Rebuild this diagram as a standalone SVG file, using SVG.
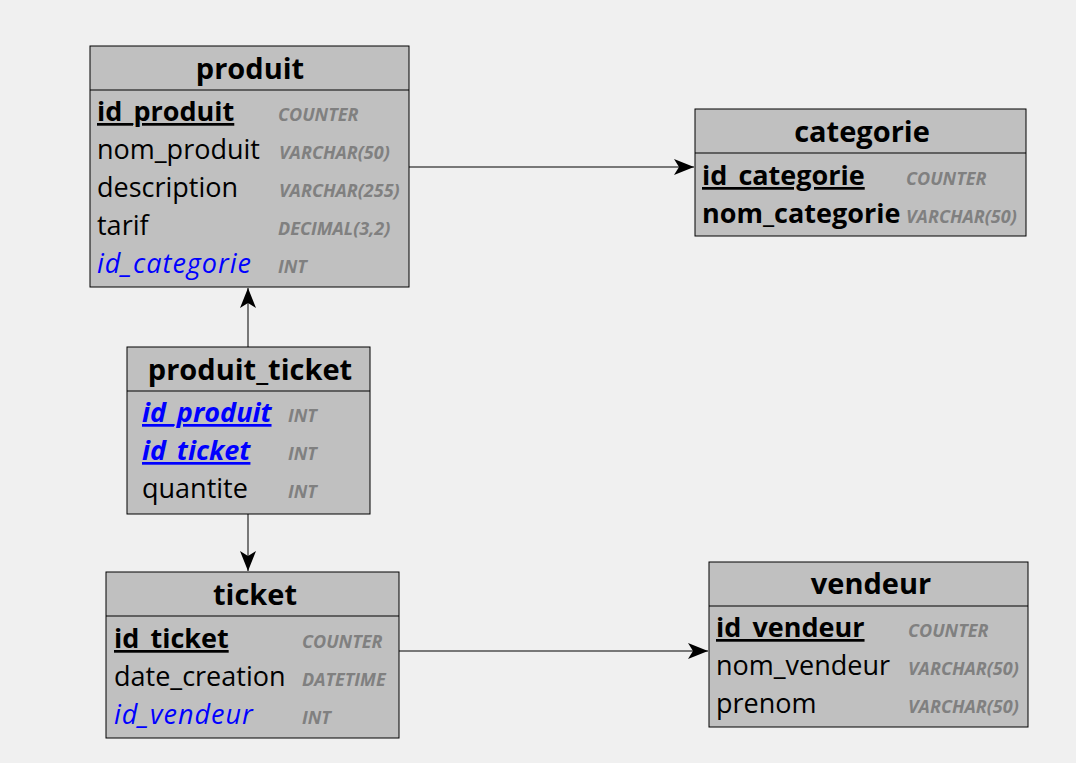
<svg xmlns="http://www.w3.org/2000/svg" width="1076" height="763" viewBox="0 0 1076 763">
<style>
.box{fill:#c0c0c0;stroke:#000;stroke-width:1}
.div{stroke:#000;stroke-width:1}
.title{font-family:"Open Sans","Noto Sans",sans-serif;font-weight:bold;font-size:29px;fill:#000;text-anchor:middle}
.f{font-family:"Open Sans","Noto Sans",sans-serif;font-size:27px;fill:#000}
.pk{font-weight:bold;text-decoration:underline}
.b{font-weight:bold}
.fk{fill:#0000ff;font-style:italic}
.ls{letter-spacing:1px}
.t{font-family:"Open Sans","Noto Sans",sans-serif;font-size:18px;font-weight:bold;font-style:italic;fill:#808080}
.con{stroke:#000;stroke-width:1;fill:none}
</style>
<defs>
<marker id="arr" viewBox="0 0 20 16" refX="20" refY="8" markerWidth="20" markerHeight="16" markerUnits="userSpaceOnUse" orient="auto">
<path d="M0,0 L20,8 L0,16 L5,8 Z" fill="#000"/>
</marker>
</defs>
<rect width="1076" height="763" fill="#f0f0f0"/>
<g id="connectors">
<line class="con" x1="409" y1="167" x2="694" y2="167" marker-end="url(#arr)"/>
<line class="con" x1="248" y1="347" x2="248" y2="288" marker-end="url(#arr)"/>
<line class="con" x1="248" y1="514" x2="248" y2="571" marker-end="url(#arr)"/>
<line class="con" x1="399" y1="651" x2="708" y2="651" marker-end="url(#arr)"/>
</g>
<g id="produit">
<rect class="box" x="90" y="46" width="319" height="241"/>
<line class="div" x1="90" y1="90" x2="409" y2="90"/>
<text class="title" x="250" y="79">produit</text>
<text class="f pk" x="97" y="121">id_produit</text>
<text class="t" x="278" y="121">COUNTER</text>
<text class="f" x="97" y="159">nom_produit</text>
<text class="t" x="279" y="159">VARCHAR(50)</text>
<text class="f" x="97" y="197">description</text>
<text class="t" x="279" y="197">VARCHAR(255)</text>
<text class="f" x="97" y="235">tarif</text>
<text class="t" x="278" y="235">DECIMAL(3,2)</text>
<text class="f fk ls" x="97" y="273">id_categorie</text>
<text class="t" x="278" y="273">INT</text>
</g>
<g id="categorie">
<rect class="box" x="695" y="109" width="331" height="127"/>
<line class="div" x1="695" y1="153" x2="1026" y2="153"/>
<text class="title" x="862" y="142">categorie</text>
<text class="f pk" x="702" y="185">id_categorie</text>
<text class="t" x="906" y="185">COUNTER</text>
<text class="f b" x="702" y="223">nom_categorie</text>
<text class="t" x="906" y="223">VARCHAR(50)</text>
</g>
<g id="produit_ticket">
<rect class="box" x="127" y="347" width="243" height="167"/>
<line class="div" x1="127" y1="391" x2="370" y2="391"/>
<text class="title" x="250" y="380">produit_ticket</text>
<text class="f pk fk" x="142" y="422">id_produit</text>
<text class="t" x="288" y="422">INT</text>
<text class="f pk fk" x="142" y="460">id_ticket</text>
<text class="t" x="288" y="460">INT</text>
<text class="f" x="142" y="498">quantite</text>
<text class="t" x="288" y="498">INT</text>
</g>
<g id="ticket">
<rect class="box" x="106" y="572" width="293" height="166"/>
<line class="div" x1="106" y1="616" x2="399" y2="616"/>
<text class="title" x="255" y="605">ticket</text>
<text class="f pk" x="114" y="648">id_ticket</text>
<text class="t" x="302" y="648">COUNTER</text>
<text class="f" x="114" y="686">date_creation</text>
<text class="t" x="302" y="686">DATETIME</text>
<text class="f fk ls" x="114" y="724">id_vendeur</text>
<text class="t" x="302" y="724">INT</text>
</g>
<g id="vendeur">
<rect class="box" x="709" y="562" width="319" height="165"/>
<line class="div" x1="709" y1="606" x2="1028" y2="606"/>
<text class="title" x="871" y="594">vendeur</text>
<text class="f pk" x="716" y="637">id_vendeur</text>
<text class="t" x="908" y="637">COUNTER</text>
<text class="f" x="716" y="675">nom_vendeur</text>
<text class="t" x="908" y="675">VARCHAR(50)</text>
<text class="f" x="716" y="713">prenom</text>
<text class="t" x="908" y="713">VARCHAR(50)</text>
</g>
</svg>
